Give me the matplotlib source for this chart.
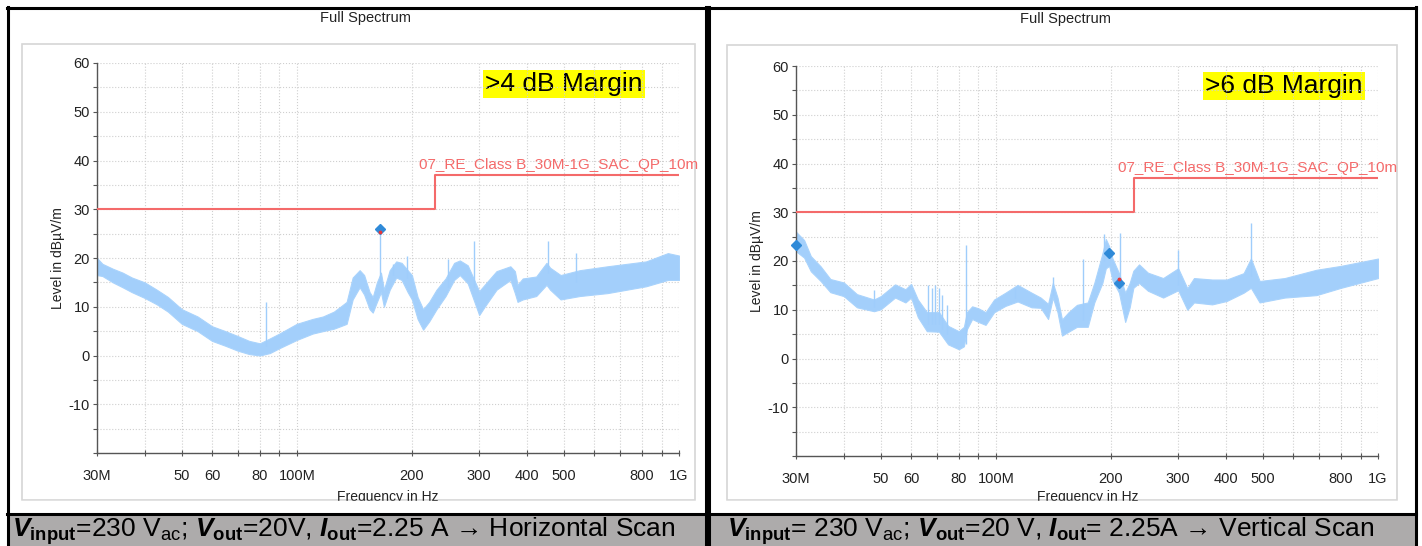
import matplotlib.pyplot as plt
from matplotlib.patches import Rectangle
from matplotlib.ticker import FixedLocator, FixedFormatter, MultipleLocator

plt.rcParams['font.family'] = ['Liberation Sans', 'DejaVu Sans']
plt.rcParams['axes.unicode_minus'] = False
plt.rcParams['mathtext.fontset'] = 'custom'
plt.rcParams['mathtext.rm'] = 'Liberation Sans'
plt.rcParams['mathtext.bf'] = 'Liberation Sans:bold'
plt.rcParams['mathtext.it'] = 'Liberation Sans:italic'
plt.rcParams['mathtext.bfit'] = 'Liberation Sans:bold:italic'

# ---- data (frequency in MHz, level in dBuV/m) ----
limit_freq = [30, 230, 230, 1000]
limit_level = [30, 30, 37, 37]
limit_name = '07_RE_Class B_30M-1G_SAC_QP_10m'
limit_label_f = 209

# horizontal scan: noise band lower / upper edge
h_freq = [30, 31, 33, 35, 37, 40, 43, 46, 50, 55, 60, 65, 70, 75, 80, 85, 90, 100,
          110, 117, 125, 130, 135, 140, 146, 150, 155, 158, 162, 166, 169, 175, 182,
          188, 195, 200, 207, 214, 222, 232, 245, 258, 267, 280, 290, 300, 310, 333,
          362, 372, 378, 390, 423, 450, 460, 490, 550, 650, 820, 935, 1000]
h_lo = [16.5, 16.3, 15.0, 14.0, 13.0, 11.8, 10.5, 9.0, 6.5, 5.0, 3.0, 2.0, 1.0, 0.3,
        0.0, 0.5, 1.5, 3.2, 4.5, 5.0, 5.5, 6.0, 6.5, 11.5, 14.0, 12.5, 9.5, 8.8, 11.0,
        13.0, 10.0, 13.5, 16.0, 15.5, 13.0, 11.5, 7.5, 5.3, 7.0, 9.5, 12.2, 15.5, 16.5,
        14.8, 11.5, 8.3, 10.0, 13.5, 15.5, 12.8, 11.0, 11.5, 12.2, 14.5, 13.5, 11.5,
        12.2, 12.8, 14.2, 15.5, 15.5]
h_hi = [20.0, 18.8, 17.8, 17.0, 16.0, 15.0, 13.5, 12.0, 9.5, 8.0, 6.0, 5.0, 4.0, 3.0,
        2.5, 3.5, 4.5, 6.5, 7.5, 8.0, 9.0, 10.0, 11.0, 16.0, 17.5, 16.5, 13.0, 12.0, 15.0,
        17.0, 13.5, 17.5, 19.3, 19.0, 17.5, 16.5, 12.0, 9.5, 11.0, 13.5, 15.8, 19.0, 19.5,
        18.5, 15.8, 13.2, 14.5, 17.3, 18.3, 17.3, 14.5, 15.8, 16.2, 19.0, 18.0, 16.5,
        17.5, 18.3, 19.3, 21.0, 20.5]
h_spike_f = [83, 165, 178, 194, 248, 290, 455, 538]
h_spike_lo = [2.0, 15.0, 16.5, 16.0, 14.0, 14.0, 17.0, 15.0]
h_spike_hi = [11.0, 26.0, 18.8, 20.5, 19.8, 23.5, 23.5, 21.0]
h_peak_f = [165]
h_peak_lvl = [25.9]
h_qp_f = [165]
h_qp_lvl = [25.3]

# vertical scan
v_freq = [30, 31.5, 32.8, 34.8, 36.9, 40, 43.3, 48, 50, 54.5, 58, 60, 62.5, 66, 71, 75,
          80, 82.5, 84, 86.7, 90, 94, 99, 106, 114, 124, 131, 137, 141, 145, 149, 155,
          163, 174, 181, 190, 194, 198, 202, 210, 218, 224, 229, 237, 250, 274, 300,
          317, 330, 368, 402, 445, 465, 490, 570, 690, 800, 1000]
v_lo = [22.0, 20.7, 17.9, 15.9, 13.6, 12.8, 10.5, 9.7, 10.1, 12.5, 11.5, 12.5, 8.5,
        5.6, 5.5, 2.9, 1.9, 2.5, 6.0, 8.1, 7.5, 6.9, 9.5, 10.8, 11.7, 10.5, 10.4, 8.1,
        12.5, 9.5, 4.7, 5.5, 6.5, 6.5, 11.5, 15.5, 18.5, 19.0, 16.0, 13.5, 7.5, 10.5,
        14.5, 15.5, 13.9, 12.5, 14.0, 10.0, 11.5, 11.1, 11.8, 13.5, 14.5, 11.5, 12.5,
        13.0, 14.5, 16.5]
v_hi = [26.0, 24.3, 21.0, 18.9, 16.3, 15.6, 13.2, 12.1, 12.8, 15.2, 14.2, 15.3, 12.1,
        9.5, 9.5, 6.7, 5.6, 6.5, 9.5, 10.7, 10.3, 9.5, 12.1, 13.5, 15.1, 13.5, 12.5, 11.2,
        15.5, 12.5, 8.0, 9.5, 11.0, 11.5, 15.5, 21.5, 24.5, 23.0, 20.5, 17.5, 13.5, 15.5,
        18.0, 19.3, 17.6, 16.5, 18.5, 14.4, 16.5, 16.2, 16.2, 17.5, 20.5, 15.9, 16.5,
        18.2, 19.0, 20.5]
v_spike_f = [48, 66.5, 68, 69.5, 71, 72.5, 74.5, 83.5, 112, 141, 169, 192, 211, 300, 465]
v_spike_lo = [10.5, 7.0, 7.0, 7.0, 7.0, 6.0, 5.0, 3.0, 12.5, 13.0, 8.0, 20.0, 15.0, 15.0, 17.0]
v_spike_hi = [14.0, 15.0, 14.4, 15.0, 14.4, 13.0, 11.0, 23.3, 14.5, 16.8, 20.5, 25.5, 25.7, 22.3, 27.7]
v_peak_f = [30, 198, 210]
v_peak_lvl = [23.3, 21.6, 15.5]
v_qp_f = [210]
v_qp_lvl = [16.3]

x_ticks = [30, 40, 50, 60, 70, 80, 90, 100, 200, 300, 400, 500, 600, 700, 800, 900, 1000]
x_labels = ['30M', '', '50', '60', '', '80', '', '100M', '200', '300', '400', '500',
            '', '', '800', '', '1G']
y_ticks = [-20, -10, 0, 10, 20, 30, 40, 50, 60]
y_labels = ['', '-10', '0', '10', '20', '30', '40', '50', '60']

W, H = 1422, 546
fig = plt.figure(figsize=(W / 100, H / 100), dpi=100)


def box(x0, y0, x1, y1):
    return [x0 / W, 1 - y1 / H, (x1 - x0) / W, (y1 - y0) / H]


# page layer: table borders, grey caption row, chart frames
bg = fig.add_axes([0, 0, 1, 1])
bg.set_xlim(0, W)
bg.set_ylim(H, 0)
bg.axis('off')

bg.add_patch(Rectangle((8, 515), 698, 31, color='#adabab', zorder=1))
bg.add_patch(Rectangle((709, 515), 706, 31, color='#adabab', zorder=1))
for xs in ([7, 706], [708, 1416]):
    bg.plot(xs, [7.5, 7.5], color='black', lw=2.2, zorder=3)
    bg.plot(xs, [513.5, 513.5], color='black', lw=2.2, zorder=3)
for xv in [7.5, 705.5, 708.5, 1415.5]:
    bg.plot([xv, xv], [7, 546], color='black', lw=2.2, zorder=3)

panels = [
    dict(frame=(22, 44, 695, 500), ax=(97, 63, 679, 453), title_x=366, title_y=18,
         ylab_x=58, xlab_x=388, freq=h_freq, lo=h_lo, hi=h_hi,
         sf=h_spike_f, slo=h_spike_lo, shi=h_spike_hi,
         pf=h_peak_f, pl=h_peak_lvl, qf=h_qp_f, ql=h_qp_lvl,
         margin='>4 dB Margin', margin_xy=(485, 84),
         cap_x=12,
         caption=r'$\mathbfit{V}_{\mathbf{input}}$=230 V$_{\mathrm{ac}}$; '
                 r'$\mathbfit{V}_{\mathbf{out}}$=20V, $\mathbfit{I}_{\mathbf{out}}$=2.25 A'
                 ' \u2192 Horizontal Scan'),
    dict(frame=(727, 45, 1397, 500), ax=(796, 66, 1378, 456), title_x=1066, title_y=19,
         ylab_x=757, xlab_x=1088, freq=v_freq, lo=v_lo, hi=v_hi,
         sf=v_spike_f, slo=v_spike_lo, shi=v_spike_hi,
         pf=v_peak_f, pl=v_peak_lvl, qf=v_qp_f, ql=v_qp_lvl,
         margin='>6 dB Margin', margin_xy=(1205, 86),
         cap_x=727,
         caption=r'$\mathbfit{V}_{\mathbf{input}}$= 230 V$_{\mathrm{ac}}$; '
                 r'$\mathbfit{V}_{\mathbf{out}}$=20 V, $\mathbfit{I}_{\mathbf{out}}$= 2.25A'
                 ' \u2192 Vertical Scan'),
]

for p in panels:
    fx0, fy0, fx1, fy1 = p['frame']
    bg.add_patch(Rectangle((fx0, fy0), fx1 - fx0, fy1 - fy0, fill=False,
                           edgecolor='#d6d6d6', lw=1.2, zorder=2))
    bg.text(p['title_x'], p['title_y'], 'Full Spectrum', ha='center', va='center',
            fontsize=10.5, color='#222222')
    ax0, ay0, ax1, ay1 = p['ax']
    bg.text(p['ylab_x'], (ay0 + ay1) / 2, 'Level in dBµV/m', rotation=90,
            ha='center', va='center', fontsize=10, color='#222222')
    bg.text(p['xlab_x'], 497, 'Frequency in Hz', ha='center', va='center',
            fontsize=10, color='#222222', zorder=2)
    # the chart frame cuts off the lower part of the axis title
    bg.add_patch(Rectangle((fx0 - 2, fy1 + 0.8), fx1 - fx0 + 4, 12, color='white', zorder=2.5))
    bg.text(p['cap_x'], 531, p['caption'], ha='left', va='center', fontsize=19,
            color='black', zorder=4)

    ax = fig.add_axes(box(*p['ax']))
    ax.set_facecolor('none')
    ax.set_xscale('log')
    ax.set_xlim(30, 1000)
    ax.set_ylim(-20, 60)
    ax.xaxis.set_major_locator(FixedLocator(x_ticks))
    ax.xaxis.set_major_formatter(FixedFormatter(x_labels))
    ax.xaxis.set_minor_locator(FixedLocator([]))
    ax.yaxis.set_major_locator(FixedLocator(y_ticks))
    ax.yaxis.set_major_formatter(FixedFormatter(y_labels))
    ax.yaxis.set_minor_locator(MultipleLocator(5))
    ax.grid(True, which='both', color='#cfcfcf', ls=':', lw=0.8)
    for s in ['top', 'right']:
        ax.spines[s].set_visible(False)
    for s in ['left', 'bottom']:
        ax.spines[s].set_color('#555555')
        ax.spines[s].set_linewidth(1.0)
    ax.tick_params(axis='x', direction='inout', length=5, width=0.8, color='#555555',
                   labelsize=10.5, labelcolor='#222222', pad=9)
    ax.tick_params(axis='y', which='both', direction='out', length=3, width=0.8,
                   color='#555555', labelsize=10.5, labelcolor='#222222', pad=2)

    ax.fill_between(p['freq'], p['lo'], p['hi'], color='#a3cffb', lw=0.8,
                    edgecolor='#a9d3fc', zorder=2)
    ax.vlines(p['sf'], p['slo'], p['shi'], color='#9fcdfb', lw=1.0, zorder=2)
    ax.plot(limit_freq, limit_level, color='#f46a6a', lw=1.5, zorder=3)
    ax.text(limit_label_f, 37.6, limit_name, color='#f46a6a', fontsize=11,
            ha='left', va='bottom', clip_on=False, zorder=4)
    ax.plot(p['pf'], p['pl'], 'D', color='#2f8ad8', ms=5, zorder=6, clip_on=False)
    ax.plot(p['qf'], p['ql'], '.', color='#e8383a', ms=3.5, zorder=7, clip_on=False)

    bg.text(p['margin_xy'][0], p['margin_xy'][1], p['margin'], ha='left', va='center',
            fontsize=19, color='black', zorder=5,
            bbox=dict(facecolor='#ffff00', edgecolor='none', pad=1.5))

fig.savefig('out.png', dpi=100)
